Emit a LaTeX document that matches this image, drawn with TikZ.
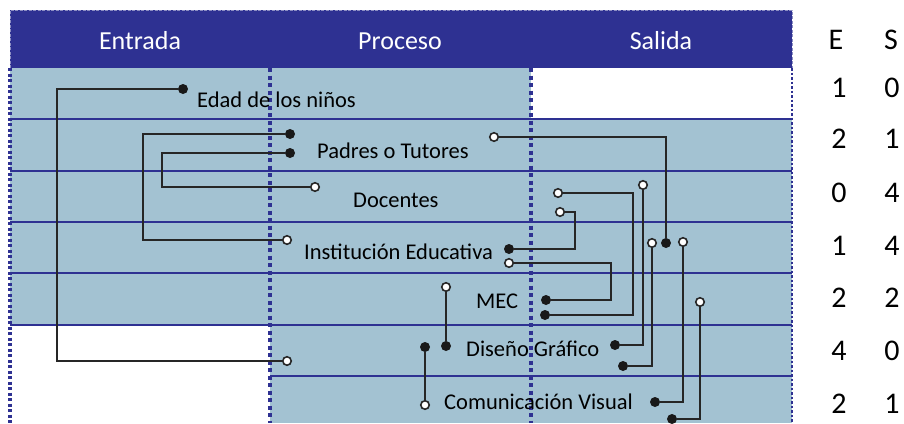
\documentclass[tikz,border=0pt]{standalone}
\usepackage{fontspec}
\setmainfont{Carlito}

\definecolor{hdrblue}{RGB}{46,49,146}
\definecolor{rowfill}{RGB}{163,194,210}

\tikzset{
  fdot/.style={circle, fill=black!90, inner sep=0pt, minimum size=10pt},
  odot/.style={circle, draw=black!85, fill=white, line width=1.6pt, inner sep=0pt, minimum size=8.5pt},
  wire/.style={line width=1.5pt, black!85},
  rowline/.style={hdrblue, line width=1.2pt},
  sepline/.style={hdrblue, line width=4pt, dash pattern=on 4pt off 3.5pt},
  lbl/.style={font=\fontsize{22.5}{26}\selectfont, anchor=base west, inner sep=0pt},
  hdr/.style={font=\fontsize{26}{29}\selectfont, text=white, anchor=base, inner sep=0pt},
  cnt/.style={font=\fontsize{30}{32}\selectfont, anchor=base, inner sep=0pt},
}

\begin{document}
\begin{tikzpicture}[x=1pt, y=-1pt]
\useasboundingbox (0,0) rectangle (904,423);

% Row bands
\fill[rowfill] (10,68) rectangle (531,119);
\fill[rowfill] (10,119) rectangle (792,325);
\fill[rowfill] (270,325) rectangle (792,423);
\foreach \y in {119,171,222,273,325}
  \draw[rowline] (10,\y) -- (792,\y);
\draw[rowline] (270,376) -- (792,376);

% Column separators and frame
\draw[sepline] (270,68) -- (270,423);
\draw[sepline] (531,68) -- (531,423);
\draw[hdrblue, line width=3.5pt, dash pattern=on 3pt off 2.5pt] (10,68) -- (10,423);
\draw[hdrblue, line width=2pt, dash pattern=on 2.5pt off 2pt] (792,68) -- (792,423);

% Header band
\fill[hdrblue] (10,10) rectangle (792,68);
\draw[hdrblue!55, line width=1pt, dash pattern=on 3pt off 1.5pt] (10,68) -- (10,10) -- (792,10) -- (792,68);
\node[hdr] (hEntrada) at (140,49) {Entrada};
\node[hdr] (hProceso) at (400,49) {Proceso};
\node[hdr] (hSalida) at (661,49) {Salida};

% Labels
\node[lbl] (tEdad) at (197,107) {Edad de los niños};
\node[lbl] (tPadres) at (317,158) {Padres o Tutores};
\node[lbl] (tDocentes) at (353,207) {Docentes};
\node[lbl] (tInst) at (304,259) {Institución Educativa};
\node[lbl] (tMec) at (476,308) {MEC};
\node[lbl] (tDiseno) at (466,356) {Diseño Gráfico};
\node[lbl] (tCom) at (444,409) {Comunicación Visual};

% E / S counts
\node[cnt] (hE) at (836,49) {E};
\node[cnt] (hS) at (891,49) {S};
\foreach \e/\s/\y in {1/0/97, 2/1/148, 0/4/202, 1/4/255, 2/2/307, 4/0/360, 2/1/413} {
  \node[cnt] at (839,\y) {\e};
  \node[cnt] at (892,\y) {\s};
}

% Terminals
\node[fdot] (fEdad) at (183,89) {};
\node[fdot] (fPad1) at (290,134) {};
\node[fdot] (fPad2) at (290,153) {};
\node[odot] (oPad) at (494,137) {};
\node[odot] (oDocL) at (315,187) {};
\node[odot] (oDoc1) at (558,193) {};
\node[odot] (oDoc2) at (643,185) {};
\node[odot] (oDoc3) at (560,212) {};
\node[odot] (oInstL) at (287,240) {};
\node[fdot] (fInst) at (509,249) {};
\node[odot] (oInst) at (509,263) {};
\node[odot] (oInst2) at (652,243) {};
\node[fdot] (fPadS) at (666,243) {};
\node[odot] (oInst3) at (683,242) {};
\node[odot] (oMecL) at (446,287) {};
\node[fdot] (fMec1) at (546,300) {};
\node[odot] (oMecR) at (700,302) {};
\node[fdot] (fMec2) at (545,315) {};
\node[fdot] (fDis1) at (615,345) {};
\node[fdot] (fDisL) at (446,346) {};
\node[fdot] (fDisL2) at (425,347) {};
\node[odot] (oDisL) at (287,361) {};
\node[fdot] (fDis2) at (623,366) {};
\node[fdot] (fCom1) at (655,402) {};
\node[odot] (oComL) at (425,405) {};
\node[fdot] (fCom2) at (672,419) {};

% Connectors
\draw[wire] (fEdad) -| (57,200) |- (oDisL);
\draw[wire] (fPad1) -| (143,200) |- (oInstL);
\draw[wire] (fPad2) -| (162,170) |- (oDocL);
\draw[wire] (oPad) -| (fPadS);
\draw[wire] (oDoc1) -| (633,250) |- (fMec2);
\draw[wire] (oDoc2) |- (fDis1);
\draw[wire] (oDoc3) -| (575,230) |- (fInst);
\draw[wire] (oInst) -| (611,280) |- (fMec1);
\draw[wire] (oInst2) |- (fDis2);
\draw[wire] (oInst3) |- (fCom1);
\draw[wire] (oMecR) |- (fCom2);
\draw[wire] (oMecL) -- (fDisL);
\draw[wire] (fDisL2) -- (oComL);

\end{tikzpicture}
\end{document}
